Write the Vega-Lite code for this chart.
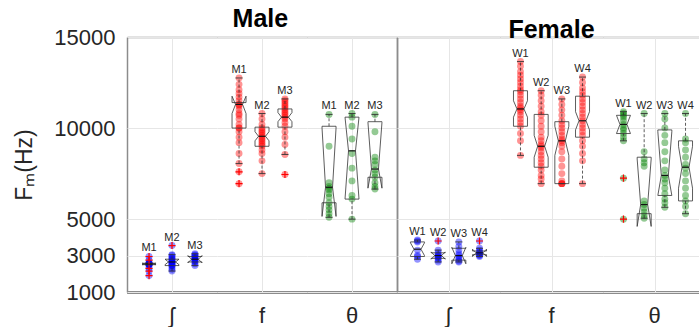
{
"$schema":"https://vega.github.io/schema/vega-lite/v6.json",
"padding":{"left":13,"top":7,"right":0,"bottom":0},
"config":{"view":{"stroke":null},"concat":{"spacing":0},"facet":{"spacing":0},"font":"Liberation Sans"},
"datasets":{"rows":[
{"g":"M","c":"ʃ","s":"M1","k":"b","lo":2500,"q1":2500,"nl":2500,"md":2540,"nh":2580,"q3":2580,"hi":2580},
{"g":"M","c":"ʃ","s":"M2","k":"b","lo":2150,"q1":2450,"nl":2500,"md":2650,"nh":2800,"q3":2800,"hi":3050},
{"g":"M","c":"ʃ","s":"M3","k":"b","lo":2450,"q1":2650,"nl":2600,"md":2800,"nh":3000,"q3":2950,"hi":3100},
{"g":"M","c":"f","s":"M1","k":"b","lo":8050,"q1":10000,"nl":10800,"md":11300,"nh":11750,"q3":11400,"hi":12750},
{"g":"M","c":"f","s":"M2","k":"b","lo":7500,"q1":9000,"nl":9300,"md":9550,"nh":9800,"q3":10050,"hi":10800},
{"g":"M","c":"f","s":"M3","k":"b","lo":8550,"q1":10050,"nl":10350,"md":10600,"nh":10850,"q3":11050,"hi":11600},
{"g":"M","c":"θ","s":"M1","k":"b","lo":5100,"q1":5900,"nl":5150,"md":6750,"nh":10000,"q3":10100,"hi":10750},
{"g":"M","c":"θ","s":"M2","k":"b","lo":5000,"q1":6100,"nl":6100,"md":8750,"nh":10600,"q3":10600,"hi":10800},
{"g":"M","c":"θ","s":"M3","k":"b","lo":6650,"q1":7300,"nl":6700,"md":7750,"nh":10300,"q3":10350,"hi":10750},
{"g":"F","c":"ʃ","s":"W1","k":"b","lo":2800,"q1":2950,"nl":3000,"md":3350,"nh":3700,"q3":3750,"hi":3850},
{"g":"F","c":"ʃ","s":"W2","k":"b","lo":2650,"q1":2850,"nl":2800,"md":3000,"nh":3200,"q3":3150,"hi":3300},
{"g":"F","c":"ʃ","s":"W3","k":"b","lo":2650,"q1":2750,"nl":2550,"md":3000,"nh":3450,"q3":3400,"hi":3750},
{"g":"F","c":"ʃ","s":"W4","k":"b","lo":2950,"q1":3050,"nl":2950,"md":3150,"nh":3350,"q3":3250,"hi":3400},
{"g":"F","c":"f","s":"W1","k":"b","lo":8500,"q1":10100,"nl":10600,"md":11050,"nh":11500,"q3":12050,"hi":13650},
{"g":"F","c":"f","s":"W2","k":"b","lo":6950,"q1":7850,"nl":8400,"md":9000,"nh":9600,"q3":10750,"hi":12050},
{"g":"F","c":"f","s":"W3","k":"b","lo":6950,"q1":6950,"nl":8500,"md":9300,"nh":10100,"q3":10350,"hi":11600},
{"g":"F","c":"f","s":"W4","k":"b","lo":6950,"q1":9500,"nl":9900,"md":10400,"nh":10900,"q3":11750,"hi":12800},
{"g":"F","c":"θ","s":"W1","k":"b","lo":9300,"q1":9700,"nl":9700,"md":10200,"nh":10700,"q3":10700,"hi":10900},
{"g":"F","c":"θ","s":"W2","k":"b","lo":5050,"q1":5300,"nl":4600,"md":5800,"nh":8300,"q3":8400,"hi":10800},
{"g":"F","c":"θ","s":"W3","k":"b","lo":5650,"q1":6300,"nl":6300,"md":7400,"nh":9800,"q3":9900,"hi":10800},
{"g":"F","c":"θ","s":"W4","k":"b","lo":5300,"q1":6000,"nl":6700,"md":7850,"nh":9000,"q3":9300,"hi":10800},

{"g":"M","c":"ʃ","s":"M1","k":"p","v":2450},{"g":"M","c":"ʃ","s":"M1","k":"p","v":2500},{"g":"M","c":"ʃ","s":"M1","k":"p","v":2520},{"g":"M","c":"ʃ","s":"M1","k":"p","v":2540},{"g":"M","c":"ʃ","s":"M1","k":"p","v":2540},{"g":"M","c":"ʃ","s":"M1","k":"p","v":2540},{"g":"M","c":"ʃ","s":"M1","k":"p","v":2560},{"g":"M","c":"ʃ","s":"M1","k":"p","v":2560},{"g":"M","c":"ʃ","s":"M1","k":"p","v":2580},
{"g":"M","c":"ʃ","s":"M1","k":"o","v":1900},{"g":"M","c":"ʃ","s":"M1","k":"o","v":2150},{"g":"M","c":"ʃ","s":"M1","k":"o","v":2300},{"g":"M","c":"ʃ","s":"M1","k":"o","v":2750},{"g":"M","c":"ʃ","s":"M1","k":"o","v":2950},
{"g":"M","c":"ʃ","s":"M2","k":"p","v":2150},{"g":"M","c":"ʃ","s":"M2","k":"p","v":2250},{"g":"M","c":"ʃ","s":"M2","k":"p","v":2350},{"g":"M","c":"ʃ","s":"M2","k":"p","v":2450},{"g":"M","c":"ʃ","s":"M2","k":"p","v":2450},{"g":"M","c":"ʃ","s":"M2","k":"p","v":2500},{"g":"M","c":"ʃ","s":"M2","k":"p","v":2550},{"g":"M","c":"ʃ","s":"M2","k":"p","v":2600},{"g":"M","c":"ʃ","s":"M2","k":"p","v":2650},{"g":"M","c":"ʃ","s":"M2","k":"p","v":2650},{"g":"M","c":"ʃ","s":"M2","k":"p","v":2700},{"g":"M","c":"ʃ","s":"M2","k":"p","v":2750},{"g":"M","c":"ʃ","s":"M2","k":"p","v":2800},{"g":"M","c":"ʃ","s":"M2","k":"p","v":2850},{"g":"M","c":"ʃ","s":"M2","k":"p","v":2900},{"g":"M","c":"ʃ","s":"M2","k":"p","v":3000},{"g":"M","c":"ʃ","s":"M2","k":"p","v":3050},
{"g":"M","c":"ʃ","s":"M2","k":"o","v":3550},
{"g":"M","c":"ʃ","s":"M3","k":"p","v":2450},{"g":"M","c":"ʃ","s":"M3","k":"p","v":2550},{"g":"M","c":"ʃ","s":"M3","k":"p","v":2650},{"g":"M","c":"ʃ","s":"M3","k":"p","v":2700},{"g":"M","c":"ʃ","s":"M3","k":"p","v":2750},{"g":"M","c":"ʃ","s":"M3","k":"p","v":2800},{"g":"M","c":"ʃ","s":"M3","k":"p","v":2800},{"g":"M","c":"ʃ","s":"M3","k":"p","v":2850},{"g":"M","c":"ʃ","s":"M3","k":"p","v":2900},{"g":"M","c":"ʃ","s":"M3","k":"p","v":2950},{"g":"M","c":"ʃ","s":"M3","k":"p","v":3000},{"g":"M","c":"ʃ","s":"M3","k":"p","v":3050},{"g":"M","c":"ʃ","s":"M3","k":"p","v":3100},

{"g":"M","c":"f","s":"M1","k":"p","v":8050},{"g":"M","c":"f","s":"M1","k":"p","v":8600},{"g":"M","c":"f","s":"M1","k":"p","v":9200},{"g":"M","c":"f","s":"M1","k":"p","v":9500},{"g":"M","c":"f","s":"M1","k":"p","v":9800},{"g":"M","c":"f","s":"M1","k":"p","v":10000},{"g":"M","c":"f","s":"M1","k":"p","v":10000},{"g":"M","c":"f","s":"M1","k":"p","v":10200},{"g":"M","c":"f","s":"M1","k":"p","v":10500},{"g":"M","c":"f","s":"M1","k":"p","v":10700},{"g":"M","c":"f","s":"M1","k":"p","v":10800},{"g":"M","c":"f","s":"M1","k":"p","v":11000},{"g":"M","c":"f","s":"M1","k":"p","v":11200},{"g":"M","c":"f","s":"M1","k":"p","v":11300},{"g":"M","c":"f","s":"M1","k":"p","v":11300},{"g":"M","c":"f","s":"M1","k":"p","v":11500},{"g":"M","c":"f","s":"M1","k":"p","v":11700},{"g":"M","c":"f","s":"M1","k":"p","v":11900},{"g":"M","c":"f","s":"M1","k":"p","v":12100},{"g":"M","c":"f","s":"M1","k":"p","v":12400},{"g":"M","c":"f","s":"M1","k":"p","v":12750},
{"g":"M","c":"f","s":"M1","k":"o","v":7600},{"g":"M","c":"f","s":"M1","k":"o","v":6950},
{"g":"M","c":"f","s":"M2","k":"p","v":7500},{"g":"M","c":"f","s":"M2","k":"p","v":8200},{"g":"M","c":"f","s":"M2","k":"p","v":8600},{"g":"M","c":"f","s":"M2","k":"p","v":8800},{"g":"M","c":"f","s":"M2","k":"p","v":9000},{"g":"M","c":"f","s":"M2","k":"p","v":9100},{"g":"M","c":"f","s":"M2","k":"p","v":9200},{"g":"M","c":"f","s":"M2","k":"p","v":9300},{"g":"M","c":"f","s":"M2","k":"p","v":9400},{"g":"M","c":"f","s":"M2","k":"p","v":9500},{"g":"M","c":"f","s":"M2","k":"p","v":9600},{"g":"M","c":"f","s":"M2","k":"p","v":9700},{"g":"M","c":"f","s":"M2","k":"p","v":9800},{"g":"M","c":"f","s":"M2","k":"p","v":9900},{"g":"M","c":"f","s":"M2","k":"p","v":10000},{"g":"M","c":"f","s":"M2","k":"p","v":10200},{"g":"M","c":"f","s":"M2","k":"p","v":10500},{"g":"M","c":"f","s":"M2","k":"p","v":10800},
{"g":"M","c":"f","s":"M3","k":"p","v":8550},{"g":"M","c":"f","s":"M3","k":"p","v":9100},{"g":"M","c":"f","s":"M3","k":"p","v":9500},{"g":"M","c":"f","s":"M3","k":"p","v":9800},{"g":"M","c":"f","s":"M3","k":"p","v":10100},{"g":"M","c":"f","s":"M3","k":"p","v":10300},{"g":"M","c":"f","s":"M3","k":"p","v":10500},{"g":"M","c":"f","s":"M3","k":"p","v":10600},{"g":"M","c":"f","s":"M3","k":"p","v":10700},{"g":"M","c":"f","s":"M3","k":"p","v":10800},{"g":"M","c":"f","s":"M3","k":"p","v":10900},{"g":"M","c":"f","s":"M3","k":"p","v":11000},{"g":"M","c":"f","s":"M3","k":"p","v":11100},{"g":"M","c":"f","s":"M3","k":"p","v":11200},{"g":"M","c":"f","s":"M3","k":"p","v":11300},{"g":"M","c":"f","s":"M3","k":"p","v":11400},{"g":"M","c":"f","s":"M3","k":"p","v":11500},{"g":"M","c":"f","s":"M3","k":"p","v":11600},
{"g":"M","c":"f","s":"M3","k":"o","v":7450},

{"g":"M","c":"θ","s":"M1","k":"p","v":5100},{"g":"M","c":"θ","s":"M1","k":"p","v":5300},{"g":"M","c":"θ","s":"M1","k":"p","v":5500},{"g":"M","c":"θ","s":"M1","k":"p","v":5700},{"g":"M","c":"θ","s":"M1","k":"p","v":5900},{"g":"M","c":"θ","s":"M1","k":"p","v":6200},{"g":"M","c":"θ","s":"M1","k":"p","v":6400},{"g":"M","c":"θ","s":"M1","k":"p","v":6600},{"g":"M","c":"θ","s":"M1","k":"p","v":6700},{"g":"M","c":"θ","s":"M1","k":"p","v":6800},{"g":"M","c":"θ","s":"M1","k":"p","v":7000},{"g":"M","c":"θ","s":"M1","k":"p","v":9000},{"g":"M","c":"θ","s":"M1","k":"p","v":10750},
{"g":"M","c":"θ","s":"M2","k":"p","v":5000},{"g":"M","c":"θ","s":"M2","k":"p","v":6100},{"g":"M","c":"θ","s":"M2","k":"p","v":6300},{"g":"M","c":"θ","s":"M2","k":"p","v":7100},{"g":"M","c":"θ","s":"M2","k":"p","v":7800},{"g":"M","c":"θ","s":"M2","k":"p","v":8600},{"g":"M","c":"θ","s":"M2","k":"p","v":9400},{"g":"M","c":"θ","s":"M2","k":"p","v":10100},{"g":"M","c":"θ","s":"M2","k":"p","v":10600},{"g":"M","c":"θ","s":"M2","k":"p","v":10800},
{"g":"M","c":"θ","s":"M3","k":"p","v":6650},{"g":"M","c":"θ","s":"M3","k":"p","v":6800},{"g":"M","c":"θ","s":"M3","k":"p","v":7000},{"g":"M","c":"θ","s":"M3","k":"p","v":7300},{"g":"M","c":"θ","s":"M3","k":"p","v":7500},{"g":"M","c":"θ","s":"M3","k":"p","v":7700},{"g":"M","c":"θ","s":"M3","k":"p","v":8000},{"g":"M","c":"θ","s":"M3","k":"p","v":8200},{"g":"M","c":"θ","s":"M3","k":"p","v":8400},{"g":"M","c":"θ","s":"M3","k":"p","v":9800},{"g":"M","c":"θ","s":"M3","k":"p","v":10750},

{"g":"F","c":"ʃ","s":"W1","k":"p","v":2800},{"g":"F","c":"ʃ","s":"W1","k":"p","v":2950},{"g":"F","c":"ʃ","s":"W1","k":"p","v":3000},{"g":"F","c":"ʃ","s":"W1","k":"p","v":3300},{"g":"F","c":"ʃ","s":"W1","k":"p","v":3750},{"g":"F","c":"ʃ","s":"W1","k":"p","v":3800},{"g":"F","c":"ʃ","s":"W1","k":"p","v":3850},
{"g":"F","c":"ʃ","s":"W2","k":"p","v":2650},{"g":"F","c":"ʃ","s":"W2","k":"p","v":2750},{"g":"F","c":"ʃ","s":"W2","k":"p","v":2850},{"g":"F","c":"ʃ","s":"W2","k":"p","v":2900},{"g":"F","c":"ʃ","s":"W2","k":"p","v":2950},{"g":"F","c":"ʃ","s":"W2","k":"p","v":3000},{"g":"F","c":"ʃ","s":"W2","k":"p","v":3050},{"g":"F","c":"ʃ","s":"W2","k":"p","v":3150},{"g":"F","c":"ʃ","s":"W2","k":"p","v":3300},
{"g":"F","c":"ʃ","s":"W2","k":"o","v":3800},
{"g":"F","c":"ʃ","s":"W3","k":"p","v":2650},{"g":"F","c":"ʃ","s":"W3","k":"p","v":2700},{"g":"F","c":"ʃ","s":"W3","k":"p","v":2800},{"g":"F","c":"ʃ","s":"W3","k":"p","v":2900},{"g":"F","c":"ʃ","s":"W3","k":"p","v":3000},{"g":"F","c":"ʃ","s":"W3","k":"p","v":3100},{"g":"F","c":"ʃ","s":"W3","k":"p","v":3300},{"g":"F","c":"ʃ","s":"W3","k":"p","v":3500},{"g":"F","c":"ʃ","s":"W3","k":"p","v":3750},
{"g":"F","c":"ʃ","s":"W4","k":"p","v":2950},{"g":"F","c":"ʃ","s":"W4","k":"p","v":3000},{"g":"F","c":"ʃ","s":"W4","k":"p","v":3050},{"g":"F","c":"ʃ","s":"W4","k":"p","v":3100},{"g":"F","c":"ʃ","s":"W4","k":"p","v":3150},{"g":"F","c":"ʃ","s":"W4","k":"p","v":3200},{"g":"F","c":"ʃ","s":"W4","k":"p","v":3300},{"g":"F","c":"ʃ","s":"W4","k":"p","v":3400},
{"g":"F","c":"ʃ","s":"W4","k":"o","v":3800},

{"g":"F","c":"f","s":"W1","k":"p","v":8500},{"g":"F","c":"f","s":"W1","k":"p","v":9300},{"g":"F","c":"f","s":"W1","k":"p","v":9700},{"g":"F","c":"f","s":"W1","k":"p","v":10100},{"g":"F","c":"f","s":"W1","k":"p","v":10300},{"g":"F","c":"f","s":"W1","k":"p","v":10500},{"g":"F","c":"f","s":"W1","k":"p","v":10700},{"g":"F","c":"f","s":"W1","k":"p","v":10900},{"g":"F","c":"f","s":"W1","k":"p","v":11000},{"g":"F","c":"f","s":"W1","k":"p","v":11100},{"g":"F","c":"f","s":"W1","k":"p","v":11200},{"g":"F","c":"f","s":"W1","k":"p","v":11400},{"g":"F","c":"f","s":"W1","k":"p","v":11600},{"g":"F","c":"f","s":"W1","k":"p","v":11800},{"g":"F","c":"f","s":"W1","k":"p","v":12000},{"g":"F","c":"f","s":"W1","k":"p","v":12100},{"g":"F","c":"f","s":"W1","k":"p","v":12300},{"g":"F","c":"f","s":"W1","k":"p","v":12500},{"g":"F","c":"f","s":"W1","k":"p","v":12700},{"g":"F","c":"f","s":"W1","k":"p","v":12900},{"g":"F","c":"f","s":"W1","k":"p","v":13100},{"g":"F","c":"f","s":"W1","k":"p","v":13400},{"g":"F","c":"f","s":"W1","k":"p","v":13650},
{"g":"F","c":"f","s":"W2","k":"p","v":6950},{"g":"F","c":"f","s":"W2","k":"p","v":7200},{"g":"F","c":"f","s":"W2","k":"p","v":7400},{"g":"F","c":"f","s":"W2","k":"p","v":7700},{"g":"F","c":"f","s":"W2","k":"p","v":7900},{"g":"F","c":"f","s":"W2","k":"p","v":8100},{"g":"F","c":"f","s":"W2","k":"p","v":8300},{"g":"F","c":"f","s":"W2","k":"p","v":8500},{"g":"F","c":"f","s":"W2","k":"p","v":8700},{"g":"F","c":"f","s":"W2","k":"p","v":8900},{"g":"F","c":"f","s":"W2","k":"p","v":9000},{"g":"F","c":"f","s":"W2","k":"p","v":9100},{"g":"F","c":"f","s":"W2","k":"p","v":9300},{"g":"F","c":"f","s":"W2","k":"p","v":9500},{"g":"F","c":"f","s":"W2","k":"p","v":9800},{"g":"F","c":"f","s":"W2","k":"p","v":10100},{"g":"F","c":"f","s":"W2","k":"p","v":10400},{"g":"F","c":"f","s":"W2","k":"p","v":10700},{"g":"F","c":"f","s":"W2","k":"p","v":10900},{"g":"F","c":"f","s":"W2","k":"p","v":11200},{"g":"F","c":"f","s":"W2","k":"p","v":11500},{"g":"F","c":"f","s":"W2","k":"p","v":11800},{"g":"F","c":"f","s":"W2","k":"p","v":12050},
{"g":"F","c":"f","s":"W3","k":"p","v":6950},{"g":"F","c":"f","s":"W3","k":"p","v":6950},{"g":"F","c":"f","s":"W3","k":"p","v":6950},{"g":"F","c":"f","s":"W3","k":"p","v":7100},{"g":"F","c":"f","s":"W3","k":"p","v":7500},{"g":"F","c":"f","s":"W3","k":"p","v":7900},{"g":"F","c":"f","s":"W3","k":"p","v":8300},{"g":"F","c":"f","s":"W3","k":"p","v":8700},{"g":"F","c":"f","s":"W3","k":"p","v":9000},{"g":"F","c":"f","s":"W3","k":"p","v":9200},{"g":"F","c":"f","s":"W3","k":"p","v":9300},{"g":"F","c":"f","s":"W3","k":"p","v":9400},{"g":"F","c":"f","s":"W3","k":"p","v":9600},{"g":"F","c":"f","s":"W3","k":"p","v":9800},{"g":"F","c":"f","s":"W3","k":"p","v":10000},{"g":"F","c":"f","s":"W3","k":"p","v":10200},{"g":"F","c":"f","s":"W3","k":"p","v":10400},{"g":"F","c":"f","s":"W3","k":"p","v":10700},{"g":"F","c":"f","s":"W3","k":"p","v":11000},{"g":"F","c":"f","s":"W3","k":"p","v":11300},{"g":"F","c":"f","s":"W3","k":"p","v":11600},
{"g":"F","c":"f","s":"W4","k":"p","v":6950},{"g":"F","c":"f","s":"W4","k":"p","v":8200},{"g":"F","c":"f","s":"W4","k":"p","v":8600},{"g":"F","c":"f","s":"W4","k":"p","v":9000},{"g":"F","c":"f","s":"W4","k":"p","v":9300},{"g":"F","c":"f","s":"W4","k":"p","v":9600},{"g":"F","c":"f","s":"W4","k":"p","v":9800},{"g":"F","c":"f","s":"W4","k":"p","v":10000},{"g":"F","c":"f","s":"W4","k":"p","v":10200},{"g":"F","c":"f","s":"W4","k":"p","v":10400},{"g":"F","c":"f","s":"W4","k":"p","v":10600},{"g":"F","c":"f","s":"W4","k":"p","v":10800},{"g":"F","c":"f","s":"W4","k":"p","v":11000},{"g":"F","c":"f","s":"W4","k":"p","v":11200},{"g":"F","c":"f","s":"W4","k":"p","v":11400},{"g":"F","c":"f","s":"W4","k":"p","v":11600},{"g":"F","c":"f","s":"W4","k":"p","v":11800},{"g":"F","c":"f","s":"W4","k":"p","v":12000},{"g":"F","c":"f","s":"W4","k":"p","v":12200},{"g":"F","c":"f","s":"W4","k":"p","v":12500},{"g":"F","c":"f","s":"W4","k":"p","v":12800},

{"g":"F","c":"θ","s":"W1","k":"p","v":9300},{"g":"F","c":"θ","s":"W1","k":"p","v":9500},{"g":"F","c":"θ","s":"W1","k":"p","v":9700},{"g":"F","c":"θ","s":"W1","k":"p","v":9900},{"g":"F","c":"θ","s":"W1","k":"p","v":10000},{"g":"F","c":"θ","s":"W1","k":"p","v":10200},{"g":"F","c":"θ","s":"W1","k":"p","v":10400},{"g":"F","c":"θ","s":"W1","k":"p","v":10600},{"g":"F","c":"θ","s":"W1","k":"p","v":10700},{"g":"F","c":"θ","s":"W1","k":"p","v":10800},{"g":"F","c":"θ","s":"W1","k":"p","v":10900},
{"g":"F","c":"θ","s":"W1","k":"o","v":7250},{"g":"F","c":"θ","s":"W1","k":"o","v":5000},
{"g":"F","c":"θ","s":"W2","k":"p","v":5050},{"g":"F","c":"θ","s":"W2","k":"p","v":5200},{"g":"F","c":"θ","s":"W2","k":"p","v":5400},{"g":"F","c":"θ","s":"W2","k":"p","v":5600},{"g":"F","c":"θ","s":"W2","k":"p","v":5800},{"g":"F","c":"θ","s":"W2","k":"p","v":6000},{"g":"F","c":"θ","s":"W2","k":"p","v":7900},{"g":"F","c":"θ","s":"W2","k":"p","v":8100},{"g":"F","c":"θ","s":"W2","k":"p","v":8300},{"g":"F","c":"θ","s":"W2","k":"p","v":8700},{"g":"F","c":"θ","s":"W2","k":"p","v":10800},
{"g":"F","c":"θ","s":"W3","k":"p","v":5650},{"g":"F","c":"θ","s":"W3","k":"p","v":5900},{"g":"F","c":"θ","s":"W3","k":"p","v":6100},{"g":"F","c":"θ","s":"W3","k":"p","v":6400},{"g":"F","c":"θ","s":"W3","k":"p","v":6700},{"g":"F","c":"θ","s":"W3","k":"p","v":7000},{"g":"F","c":"θ","s":"W3","k":"p","v":7200},{"g":"F","c":"θ","s":"W3","k":"p","v":7400},{"g":"F","c":"θ","s":"W3","k":"p","v":7700},{"g":"F","c":"θ","s":"W3","k":"p","v":8200},{"g":"F","c":"θ","s":"W3","k":"p","v":8700},{"g":"F","c":"θ","s":"W3","k":"p","v":9200},{"g":"F","c":"θ","s":"W3","k":"p","v":9600},{"g":"F","c":"θ","s":"W3","k":"p","v":10000},{"g":"F","c":"θ","s":"W3","k":"p","v":10500},{"g":"F","c":"θ","s":"W3","k":"p","v":10800},
{"g":"F","c":"θ","s":"W4","k":"p","v":5300},{"g":"F","c":"θ","s":"W4","k":"p","v":5700},{"g":"F","c":"θ","s":"W4","k":"p","v":6000},{"g":"F","c":"θ","s":"W4","k":"p","v":6300},{"g":"F","c":"θ","s":"W4","k":"p","v":6700},{"g":"F","c":"θ","s":"W4","k":"p","v":7100},{"g":"F","c":"θ","s":"W4","k":"p","v":7500},{"g":"F","c":"θ","s":"W4","k":"p","v":7800},{"g":"F","c":"θ","s":"W4","k":"p","v":8000},{"g":"F","c":"θ","s":"W4","k":"p","v":8400},{"g":"F","c":"θ","s":"W4","k":"p","v":8800},{"g":"F","c":"θ","s":"W4","k":"p","v":9200},{"g":"F","c":"θ","s":"W4","k":"p","v":9400},{"g":"F","c":"θ","s":"W4","k":"p","v":10800}
]},
"data":{"name":"rows"},
"hconcat":[
{
"title":{"text":"Male","fontSize":25,"fontWeight":"bold","font":"Liberation Sans","color":"#000000","anchor":"middle","dx":55,"offset":-6},
"transform":[{"filter":"datum.g == 'M'"}],
"facet":{"column":{"field":"c","type":"nominal","sort":["ʃ","f","θ"],"title":null,"header":{"orient":"bottom","labelFont":"Liberation Sans","labelFontSize":22,"labelColor":"#262626","labelPadding":14}}},
"spacing":0,
"spec":{
"width":90,"height":255,
"encoding":{"x":{"field":"s","type":"nominal","scale":{"type":"point","domain":["M1","M2","M3"],"padding":0.96},"axis":{"orient":"bottom","labels":false,"ticks":false,"domain":true,"domainColor":"#8c8c8c","domainWidth":1.5,"grid":true,"gridColor":"#e6e6e6","values":["M2"],"title":null}}},
"layer":[
{"transform":[{"filter":"datum.k != 'b'"}],"mark":{"type":"circle","size":48,"opacity":0.42},
 "encoding":{"y":{"field":"v","type":"quantitative","scale":{"domain":[1000,15000],"nice":false,"zero":false},
  "axis":{"orient":"left","values":[1000,3000,5000,10000,15000],"format":"d","labelFont":"Liberation Sans","labelFontSize":22,"labelColor":"#262626","labelPadding":12,"ticks":false,"tickSize":0,"domainColor":"#8c8c8c","domainWidth":1.5,"grid":true,"gridColor":"#e6e6e6","title":"Fₘ(Hz)","titleFont":"Liberation Sans","titleFontSize":23,"titleFontWeight":"normal","titleColor":"#262626","titlePadding":17}},
  "color":{"field":"c","type":"nominal","scale":{"domain":["ʃ","f","θ"],"range":["#0000ff","#ff0000","#008000"]},"legend":null}}},
{"transform":[{"filter":"datum.k == 'b'"}],"mark":{"type":"rule","color":"#333333","strokeWidth":0.8,"strokeDash":[3,2]},"encoding":{"y":{"field":"lo","type":"quantitative","axis":null},"y2":{"field":"q1"}}},
{"transform":[{"filter":"datum.k == 'b'"}],"mark":{"type":"rule","color":"#333333","strokeWidth":0.8,"strokeDash":[3,2]},"encoding":{"y":{"field":"q3","type":"quantitative","axis":null},"y2":{"field":"hi"}}},
{"transform":[{"filter":"datum.k == 'b'"}],"mark":{"type":"rule","color":"#333333","strokeWidth":0.9,"xOffset":-3.5,"x2Offset":3.5},"encoding":{"x2":{"field":"s"},"y":{"field":"lo","type":"quantitative","axis":null}}},
{"transform":[{"filter":"datum.k == 'b'"}],"mark":{"type":"rule","color":"#333333","strokeWidth":0.9,"xOffset":-3.5,"x2Offset":3.5},"encoding":{"x2":{"field":"s"},"y":{"field":"hi","type":"quantitative","axis":null}}},
{"transform":[{"filter":"datum.k == 'b'"}],"mark":{"type":"rule","color":"#333333","strokeWidth":0.8,"xOffset":-7},"encoding":{"y":{"field":"q1","type":"quantitative","axis":null},"y2":{"field":"nl"}}},
{"transform":[{"filter":"datum.k == 'b'"}],"mark":{"type":"rule","color":"#333333","strokeWidth":0.8,"xOffset":-7,"x2Offset":-3.5},"encoding":{"x2":{"field":"s"},"y":{"field":"nl","type":"quantitative","axis":null},"y2":{"field":"md"}}},
{"transform":[{"filter":"datum.k == 'b'"}],"mark":{"type":"rule","color":"#333333","strokeWidth":0.8,"xOffset":-3.5,"x2Offset":-7},"encoding":{"x2":{"field":"s"},"y":{"field":"md","type":"quantitative","axis":null},"y2":{"field":"nh"}}},
{"transform":[{"filter":"datum.k == 'b'"}],"mark":{"type":"rule","color":"#333333","strokeWidth":0.8,"xOffset":-7},"encoding":{"y":{"field":"nh","type":"quantitative","axis":null},"y2":{"field":"q3"}}},
{"transform":[{"filter":"datum.k == 'b'"}],"mark":{"type":"rule","color":"#333333","strokeWidth":0.8,"xOffset":7},"encoding":{"y":{"field":"q1","type":"quantitative","axis":null},"y2":{"field":"nl"}}},
{"transform":[{"filter":"datum.k == 'b'"}],"mark":{"type":"rule","color":"#333333","strokeWidth":0.8,"xOffset":7,"x2Offset":3.5},"encoding":{"x2":{"field":"s"},"y":{"field":"nl","type":"quantitative","axis":null},"y2":{"field":"md"}}},
{"transform":[{"filter":"datum.k == 'b'"}],"mark":{"type":"rule","color":"#333333","strokeWidth":0.8,"xOffset":3.5,"x2Offset":7},"encoding":{"x2":{"field":"s"},"y":{"field":"md","type":"quantitative","axis":null},"y2":{"field":"nh"}}},
{"transform":[{"filter":"datum.k == 'b'"}],"mark":{"type":"rule","color":"#333333","strokeWidth":0.8,"xOffset":7},"encoding":{"y":{"field":"nh","type":"quantitative","axis":null},"y2":{"field":"q3"}}},
{"transform":[{"filter":"datum.k == 'b'"}],"mark":{"type":"rule","color":"#333333","strokeWidth":0.8,"xOffset":-7,"x2Offset":7},"encoding":{"x2":{"field":"s"},"y":{"field":"q3","type":"quantitative","axis":null}}},
{"transform":[{"filter":"datum.k == 'b'"}],"mark":{"type":"rule","color":"#333333","strokeWidth":0.8,"xOffset":-7,"x2Offset":7},"encoding":{"x2":{"field":"s"},"y":{"field":"q1","type":"quantitative","axis":null}}},
{"transform":[{"filter":"datum.k == 'b'"}],"mark":{"type":"rule","color":"#111111","strokeWidth":1.2,"xOffset":-3.5,"x2Offset":3.5},"encoding":{"x2":{"field":"s"},"y":{"field":"md","type":"quantitative","axis":null}}},
{"transform":[{"filter":"datum.k == 'o'"}],"mark":{"type":"point","shape":"M-1,0L1,0M0,-1L0,1","size":50,"filled":false,"color":"#ff0000","strokeWidth":1.2,"opacity":1},"encoding":{"y":{"field":"v","type":"quantitative","axis":null}}},
{"transform":[{"filter":"datum.k != 'b'"},{"aggregate":[{"op":"max","field":"v","as":"top"}],"groupby":["s","c"]}],
 "mark":{"type":"text","fontSize":11,"font":"Liberation Sans","color":"#262626","baseline":"middle","dy":-8},
 "encoding":{"x":{"field":"s","type":"nominal","scale":{"type":"point","domain":["M1","M2","M3"],"padding":0.96},"axis":{"orient":"top","labels":false,"ticks":false,"grid":false,"domain":true,"domainColor":"#8c8c8c","domainWidth":1.5,"title":null}},
  "y":{"field":"top","type":"quantitative","axis":{"orient":"right","labels":false,"ticks":false,"grid":false,"domain":true,"domainColor":"#8c8c8c","domainWidth":1.5,"title":null}},
  "text":{"field":"s"}}}
]}
},
{
"title":{"text":"Female","fontSize":25,"fontWeight":"bold","font":"Liberation Sans","color":"#000000","anchor":"middle","offset":-6},
"transform":[{"filter":"datum.g == 'F'"}],
"facet":{"column":{"field":"c","type":"nominal","sort":["ʃ","f","θ"],"title":null,"header":{"orient":"bottom","labelFont":"Liberation Sans","labelFontSize":22,"labelColor":"#262626","labelPadding":14}}},
"spacing":0,
"spec":{
"width":103,"height":255,
"encoding":{"x":{"field":"s","type":"nominal","scale":{"type":"point","domain":["e1","W1","g1","W2","C","W3","g2","W4","e2"],"padding":0.98},"axis":{"orient":"bottom","labels":false,"ticks":false,"domain":true,"domainColor":"#8c8c8c","domainWidth":1.5,"grid":true,"gridColor":"#e6e6e6","values":["C"],"title":null}}},
"layer":[
{"transform":[{"filter":"datum.k != 'b'"}],"mark":{"type":"circle","size":48,"opacity":0.42},
 "encoding":{"y":{"field":"v","type":"quantitative","scale":{"domain":[1000,15000],"nice":false,"zero":false},
  "axis":{"orient":"left","values":[1000,3000,5000,10000,15000],"labels":false,"ticks":false,"tickSize":0,"domainColor":"#8c8c8c","domainWidth":1.5,"grid":true,"gridColor":"#e6e6e6","title":null}},
  "color":{"field":"c","type":"nominal","scale":{"domain":["ʃ","f","θ"],"range":["#0000ff","#ff0000","#008000"]},"legend":null}}},
{"transform":[{"filter":"datum.k == 'b'"}],"mark":{"type":"rule","color":"#333333","strokeWidth":0.8,"strokeDash":[3,2]},"encoding":{"y":{"field":"lo","type":"quantitative","axis":null},"y2":{"field":"q1"}}},
{"transform":[{"filter":"datum.k == 'b'"}],"mark":{"type":"rule","color":"#333333","strokeWidth":0.8,"strokeDash":[3,2]},"encoding":{"y":{"field":"q3","type":"quantitative","axis":null},"y2":{"field":"hi"}}},
{"transform":[{"filter":"datum.k == 'b'"}],"mark":{"type":"rule","color":"#333333","strokeWidth":0.9,"xOffset":-3.5,"x2Offset":3.5},"encoding":{"x2":{"field":"s"},"y":{"field":"lo","type":"quantitative","axis":null}}},
{"transform":[{"filter":"datum.k == 'b'"}],"mark":{"type":"rule","color":"#333333","strokeWidth":0.9,"xOffset":-3.5,"x2Offset":3.5},"encoding":{"x2":{"field":"s"},"y":{"field":"hi","type":"quantitative","axis":null}}},
{"transform":[{"filter":"datum.k == 'b'"}],"mark":{"type":"rule","color":"#333333","strokeWidth":0.8,"xOffset":-7},"encoding":{"y":{"field":"q1","type":"quantitative","axis":null},"y2":{"field":"nl"}}},
{"transform":[{"filter":"datum.k == 'b'"}],"mark":{"type":"rule","color":"#333333","strokeWidth":0.8,"xOffset":-7,"x2Offset":-3.5},"encoding":{"x2":{"field":"s"},"y":{"field":"nl","type":"quantitative","axis":null},"y2":{"field":"md"}}},
{"transform":[{"filter":"datum.k == 'b'"}],"mark":{"type":"rule","color":"#333333","strokeWidth":0.8,"xOffset":-3.5,"x2Offset":-7},"encoding":{"x2":{"field":"s"},"y":{"field":"md","type":"quantitative","axis":null},"y2":{"field":"nh"}}},
{"transform":[{"filter":"datum.k == 'b'"}],"mark":{"type":"rule","color":"#333333","strokeWidth":0.8,"xOffset":-7},"encoding":{"y":{"field":"nh","type":"quantitative","axis":null},"y2":{"field":"q3"}}},
{"transform":[{"filter":"datum.k == 'b'"}],"mark":{"type":"rule","color":"#333333","strokeWidth":0.8,"xOffset":7},"encoding":{"y":{"field":"q1","type":"quantitative","axis":null},"y2":{"field":"nl"}}},
{"transform":[{"filter":"datum.k == 'b'"}],"mark":{"type":"rule","color":"#333333","strokeWidth":0.8,"xOffset":7,"x2Offset":3.5},"encoding":{"x2":{"field":"s"},"y":{"field":"nl","type":"quantitative","axis":null},"y2":{"field":"md"}}},
{"transform":[{"filter":"datum.k == 'b'"}],"mark":{"type":"rule","color":"#333333","strokeWidth":0.8,"xOffset":3.5,"x2Offset":7},"encoding":{"x2":{"field":"s"},"y":{"field":"md","type":"quantitative","axis":null},"y2":{"field":"nh"}}},
{"transform":[{"filter":"datum.k == 'b'"}],"mark":{"type":"rule","color":"#333333","strokeWidth":0.8,"xOffset":7},"encoding":{"y":{"field":"nh","type":"quantitative","axis":null},"y2":{"field":"q3"}}},
{"transform":[{"filter":"datum.k == 'b'"}],"mark":{"type":"rule","color":"#333333","strokeWidth":0.8,"xOffset":-7,"x2Offset":7},"encoding":{"x2":{"field":"s"},"y":{"field":"q3","type":"quantitative","axis":null}}},
{"transform":[{"filter":"datum.k == 'b'"}],"mark":{"type":"rule","color":"#333333","strokeWidth":0.8,"xOffset":-7,"x2Offset":7},"encoding":{"x2":{"field":"s"},"y":{"field":"q1","type":"quantitative","axis":null}}},
{"transform":[{"filter":"datum.k == 'b'"}],"mark":{"type":"rule","color":"#111111","strokeWidth":1.2,"xOffset":-3.5,"x2Offset":3.5},"encoding":{"x2":{"field":"s"},"y":{"field":"md","type":"quantitative","axis":null}}},
{"transform":[{"filter":"datum.k == 'o'"}],"mark":{"type":"point","shape":"M-1,0L1,0M0,-1L0,1","size":50,"filled":false,"color":"#ff0000","strokeWidth":1.2,"opacity":1},"encoding":{"y":{"field":"v","type":"quantitative","axis":null}}},
{"transform":[{"filter":"datum.k != 'b'"},{"aggregate":[{"op":"max","field":"v","as":"top"}],"groupby":["s","c"]}],
 "mark":{"type":"text","fontSize":11,"font":"Liberation Sans","color":"#262626","baseline":"middle","dy":-8},
 "encoding":{"x":{"field":"s","type":"nominal","scale":{"type":"point","domain":["e1","W1","g1","W2","C","W3","g2","W4","e2"],"padding":0.98},"axis":{"orient":"top","labels":false,"ticks":false,"grid":false,"domain":true,"domainColor":"#8c8c8c","domainWidth":1.5,"title":null}},
  "y":{"field":"top","type":"quantitative","axis":{"orient":"right","labels":false,"ticks":false,"grid":false,"domain":true,"domainColor":"#8c8c8c","domainWidth":1.5,"title":null}},
  "text":{"field":"s"}}}
]}
}
]
}
